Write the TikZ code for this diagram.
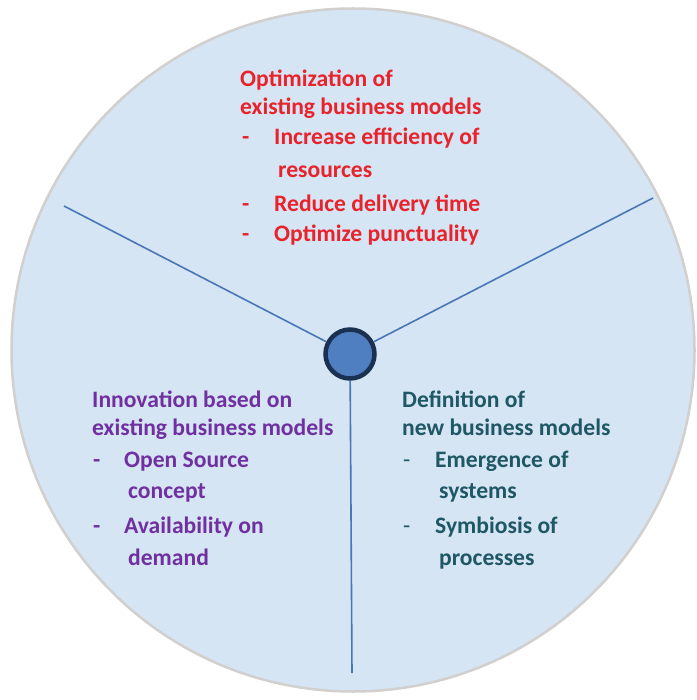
\documentclass[tikz,border=0pt]{standalone}
\usepackage{fontspec}
\setmainfont{Carlito}
\definecolor{discfill}{HTML}{D5E5F4}
\definecolor{discedge}{HTML}{D2D0CE}
\definecolor{spokecol}{HTML}{4A76B8}
\definecolor{hubfill}{HTML}{4F7FC0}
\definecolor{hubedge}{HTML}{1B3152}
\definecolor{redtxt}{HTML}{E8232B}
\definecolor{purptxt}{HTML}{7030A0}
\definecolor{tealtxt}{HTML}{1F5764}
\begin{document}
\begin{tikzpicture}[x=1pt,y=-1pt,
  spoke/.style={draw=spokecol, line width=1.6pt},
  txt/.style={anchor=base west, inner sep=0pt, font=\bfseries\fontsize{23.6}{28}\selectfont},
  thindash/.style={anchor=base west, inner sep=0pt, font=\fontsize{23.6}{28}\selectfont}]
\useasboundingbox (0,0) rectangle (696,700);
\fill[white] (0,0) rectangle (696,700);
\node[circle, draw=discedge, line width=2.5pt, fill=discfill, minimum size=683pt, inner sep=0pt] (disc) at (353,350) {};
\node[circle, draw=hubedge, line width=4.5pt, fill=hubfill, minimum size=49pt, inner sep=0pt] (hub) at (350,354) {};
\coordinate (lend) at (64,206);
\coordinate (rend) at (653,198);
\coordinate (bend) at (352,673);
\draw[spoke] (lend) -- (hub);
\draw[spoke] (rend) -- (hub);
\draw[spoke] (bend) -- (hub);
% top block
\begin{scope}[every node/.append style={text=redtxt}]
\node[txt] (t1) at (240,87) {Optimization of};
\node[txt] (t2) at (240,115) {existing business models};
\node[txt] (t3d) at (242,145) {-};
\node[txt] (t3) at (274,145) {Increase efficiency of};
\node[txt] (t4) at (278,178) {resources};
\node[txt] (t5d) at (242,212) {-};
\node[txt] (t5) at (274,212) {Reduce delivery time};
\node[txt] (t6d) at (242,242) {-};
\node[txt] (t6) at (274,242) {Optimize punctuality};
\end{scope}
% left block
\begin{scope}[every node/.append style={text=purptxt}]
\node[txt] (l1) at (92,407) {Innovation based on};
\node[txt] (l2) at (92,435) {existing business models};
\node[txt] (l3d) at (93,467) {-};
\node[txt] (l3) at (124,467) {Open Source};
\node[txt] (l4) at (128,498) {concept};
\node[txt] (l5d) at (93,533) {-};
\node[txt] (l5) at (124,533) {Availability on};
\node[txt] (l6) at (128,565) {demand};
\end{scope}
% right block
\begin{scope}[every node/.append style={text=tealtxt}]
\node[txt] (r1) at (402,407) {Definition of};
\node[txt] (r2) at (402,435) {new business models};
\node[thindash] (r3d) at (403,467) {-};
\node[txt] (r3) at (435,467) {Emergence of};
\node[txt] (r4) at (439,498) {systems};
\node[thindash] (r5d) at (403,533) {-};
\node[txt] (r5) at (435,533) {Symbiosis of};
\node[txt] (r6) at (439,565) {processes};
\end{scope}
\end{tikzpicture}
\end{document}
